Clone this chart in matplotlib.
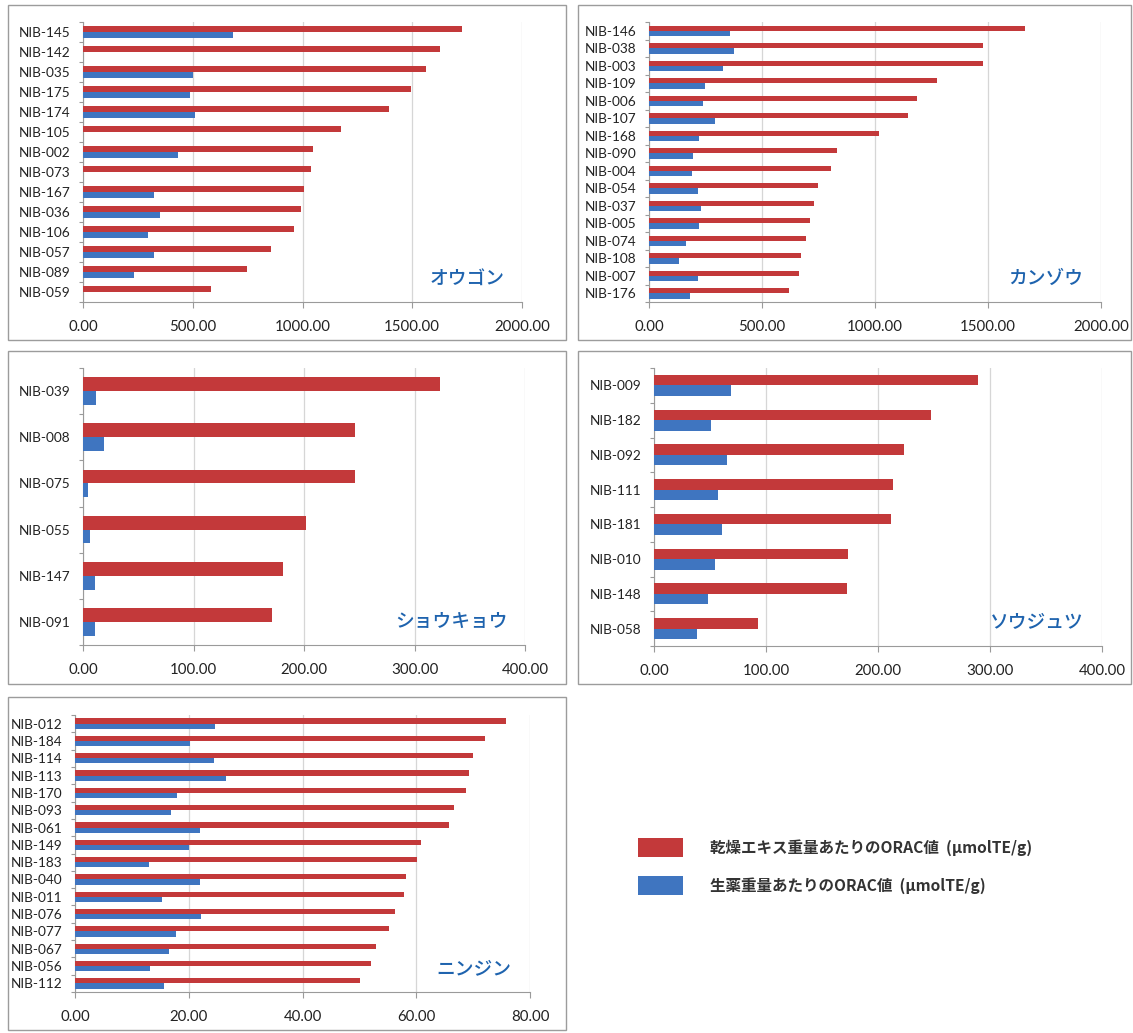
import matplotlib
matplotlib.use("Agg")
import matplotlib.pyplot as plt
from matplotlib.patches import Rectangle
from matplotlib.ticker import FormatStrFormatter, FixedLocator
import numpy as np

# ---------------- data ----------------
ougon_labels = ["NIB-145", "NIB-142", "NIB-035", "NIB-175", "NIB-174", "NIB-105", "NIB-002",
                "NIB-073", "NIB-167", "NIB-036", "NIB-106", "NIB-057", "NIB-089", "NIB-059"]
ougon_extract = [1726, 1627, 1563, 1495, 1396, 1177, 1046, 1039, 1007, 991, 959, 858, 745, 584]
ougon_crude = [684, 0, 500, 486, 510, 0, 435, 0, 322, 349, 297, 325, 234, 0]

kanzou_labels = ["NIB-146", "NIB-038", "NIB-003", "NIB-109", "NIB-006", "NIB-107", "NIB-168", "NIB-090",
                 "NIB-004", "NIB-054", "NIB-037", "NIB-005", "NIB-074", "NIB-108", "NIB-007", "NIB-176"]
kanzou_extract = [1662, 1477, 1477, 1274, 1186, 1146, 1018, 830, 805, 750, 732, 713, 693, 674, 663, 621]
kanzou_crude = [359, 378, 328, 248, 241, 290, 222, 196, 191, 216, 232, 220, 163, 132, 216, 182]

shoukyou_labels = ["NIB-039", "NIB-008", "NIB-075", "NIB-055", "NIB-147", "NIB-091"]
shoukyou_extract = [323, 246.5, 246.5, 202, 181, 171]
shoukyou_crude = [12, 19.4, 4.3, 6.6, 11, 10.5]

soujutsu_labels = ["NIB-009", "NIB-182", "NIB-092", "NIB-111", "NIB-181", "NIB-010", "NIB-148", "NIB-058"]
soujutsu_extract = [289, 247, 223, 213, 212, 173, 172, 93]
soujutsu_crude = [68.7, 51, 65, 57, 61, 54.5, 48, 38]

ninjin_labels = ["NIB-012", "NIB-184", "NIB-114", "NIB-113", "NIB-170", "NIB-093", "NIB-061", "NIB-149",
                 "NIB-183", "NIB-040", "NIB-011", "NIB-076", "NIB-077", "NIB-067", "NIB-056", "NIB-112"]
ninjin_extract = [75.8, 72.1, 70.0, 69.3, 68.8, 66.6, 65.8, 60.9, 60.2, 58.2, 57.8, 56.3, 55.2, 52.9, 52.1, 50.1]
ninjin_crude = [24.7, 20.3, 24.4, 26.5, 18.0, 16.9, 21.9, 20.0, 13.0, 21.9, 15.3, 22.1, 17.8, 16.6, 13.2, 15.6]

panel_titles = ["オウゴン", "カンゾウ", "ショウキョウ", "ソウジュツ", "ニンジン"]
x_ticks_list = [[0, 500, 1000, 1500, 2000], [0, 500, 1000, 1500, 2000],
                [0, 100, 200, 300, 400], [0, 100, 200, 300, 400], [0, 20, 40, 60, 80]]
legend_labels = ["乾燥エキス重量あたりのORAC値  (μmolTE/g)", "生薬重量あたりのORAC値  (μmolTE/g)"]

# ---------------- style ----------------
W, H = 1133, 1033
RED = "#C3393A"
BLUE = "#3F75C0"
TITLE_BLUE = "#1E63AE"
GRID = "#D6D6D6"
AXIS = "#9A9A9A"
TXT = "#222222"
plt.rcParams["font.family"] = ["Lato", "DejaVu Sans"]
JP = ["Noto Sans CJK JP", "DejaVu Sans"]

fig = plt.figure(figsize=(W / 100, H / 100), dpi=100)
fig.patch.set_facecolor("white")


def frac_rect(x0, x1, ytop, ybot):
    return [x0 / W, 1 - ybot / H, (x1 - x0) / W, (ybot - ytop) / H]


def frame(x0, x1, ytop, ybot):
    fig.patches.append(Rectangle((x0 / W, 1 - ybot / H), (x1 - x0) / W, (ybot - ytop) / H,
                                 transform=fig.transFigure, fill=False, edgecolor="#9C9C9C",
                                 linewidth=1.0))


panels = [
    (ougon_labels, ougon_extract, ougon_crude, (83, 522, 22, 302), (8, 566, 5, 340)),
    (kanzou_labels, kanzou_extract, kanzou_crude, (649, 1101, 22, 302), (578, 1131, 5, 340)),
    (shoukyou_labels, shoukyou_extract, shoukyou_crude, (83, 525, 368, 645), (8, 566, 351, 684)),
    (soujutsu_labels, soujutsu_extract, soujutsu_crude, (654, 1102, 368, 646), (578, 1131, 351, 684)),
    (ninjin_labels, ninjin_extract, ninjin_crude, (75, 530, 715, 992), (8, 566, 697, 1030)),
]

for i, (labels, ext, crude, arect, frect) in enumerate(panels):
    frame(*frect)
    ax = fig.add_axes(frac_rect(*arect))
    n = len(labels)
    y = np.arange(n)
    h = 0.3
    ax.barh(y - h / 2, ext, height=h, color=RED, zorder=3)
    ax.barh(y + h / 2, crude, height=h, color=BLUE, zorder=3)
    ax.set_ylim(n - 0.5, -0.5)
    ticks = x_ticks_list[i]
    ax.set_xlim(0, ticks[-1])
    ax.set_xticks(ticks)
    ax.xaxis.set_major_formatter(FormatStrFormatter("%.2f"))
    ax.set_yticks(y)
    ax.set_yticklabels(labels)
    ax.yaxis.set_minor_locator(FixedLocator(np.arange(-0.5, n, 1.0)))
    ax.tick_params(axis="y", which="major", length=0, pad=9, labelsize=9.8, labelcolor=TXT)
    ax.tick_params(axis="y", which="minor", length=3, color=AXIS, width=0.8)
    ax.tick_params(axis="x", which="major", length=4, color=AXIS, width=0.8, pad=9,
                   labelsize=10.8, labelcolor=TXT)
    ax.grid(axis="x", color=GRID, linewidth=0.9, zorder=0)
    for s in ["top", "right"]:
        ax.spines[s].set_visible(False)
    for s in ["left", "bottom"]:
        ax.spines[s].set_color(AXIS)
        ax.spines[s].set_linewidth(0.8)
    ax.text(0.96, 0.085, panel_titles[i], transform=ax.transAxes, ha="right", va="center",
            fontsize=13.5, color=TITLE_BLUE, family=JP, fontweight="medium")

# ---------------- legend ----------------
for (ytop, col, lab) in [(838, RED, legend_labels[0]), (876, BLUE, legend_labels[1])]:
    fig.patches.append(Rectangle((638 / W, 1 - (ytop + 19) / H), 45 / W, 19 / H,
                                 transform=fig.transFigure, facecolor=col, edgecolor="none"))
    fig.text(710 / W, 1 - (ytop + 9.5) / H, lab, ha="left", va="center", fontsize=11.2,
             family=JP, fontweight="bold", color="#333333")

fig.savefig("out.png", dpi=100, facecolor="white")
